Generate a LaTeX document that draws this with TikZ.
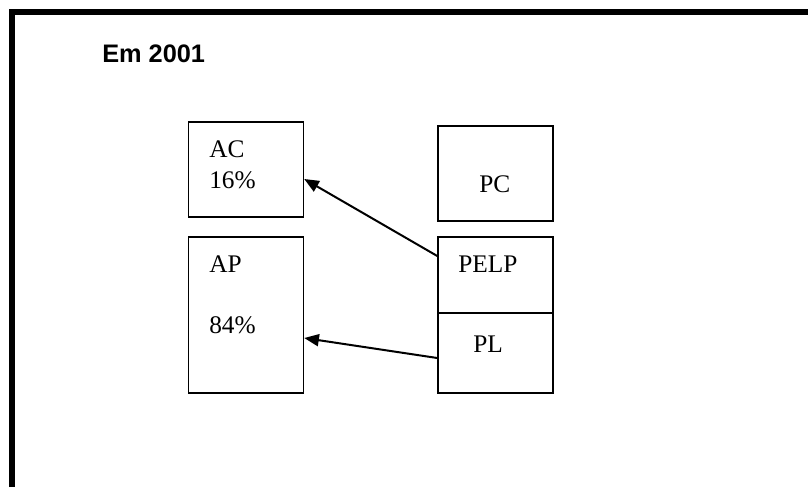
\documentclass[tikz,border=0pt]{standalone}
\usepackage{fontspec}
\setmainfont{Liberation Serif}
\newfontfamily\titlefont{Liberation Sans}
\usetikzlibrary{arrows.meta,calc}

\tikzset{
  box/.style={draw, line width=1.1pt, minimum width=86.25pt, inner sep=0pt},
  lbl/.style={anchor=base west, inner sep=0pt, font=\fontsize{19}{21}\selectfont},
  flow/.style={line width=1.5pt, -{Triangle[length=11pt,width=9pt]}}
}

\begin{document}
\begin{tikzpicture}[x=0.75pt, y=-0.75pt]
        \useasboundingbox (0,0) rectangle (808,487);
        % frame
        \draw[line width=4.5pt] (11.5,487) -- (11.5,12) -- (808,12);
        \node[anchor=base west, inner sep=0pt, font=\titlefont\bfseries\fontsize{19}{21}\selectfont] (title) at (102,62) {Em 2001};

        % left column
        \node[box, minimum height=71.25pt] (ac) at (246,169.5) {};
        \node[box, minimum height=117pt] (ap) at (246,315) {};
        \node[lbl] (actxt) at (209,157) {AC};
        \node[lbl] (acpct) at (209,188) {16\%};
        \node[lbl] (aptxt) at (209,272) {AP};
        \node[lbl] (appct) at (209,333) {84\%};

        % right column
        \node[box, minimum height=71.25pt] (pc) at (495.5,173.5) {};
        \node[box, minimum height=57pt] (pelp) at (495.5,275) {};
        \node[box, minimum height=60pt] (pl) at (495.5,353) {};
        \node[lbl] (pctxt) at (479,192) {PC};
        \node[lbl] (pelptxt) at (458,272) {PELP};
        \node[lbl] (pltxt) at (473,352) {PL};

        \draw[flow] ($(pelp.west)+(0,-19)$) -- ($(ac.east)+(0,9.5)$);
        \draw[flow] ($(pl.west)+(0,5)$) -- ($(ap.east)+(0,23)$);
    \end{tikzpicture}
\end{document}
